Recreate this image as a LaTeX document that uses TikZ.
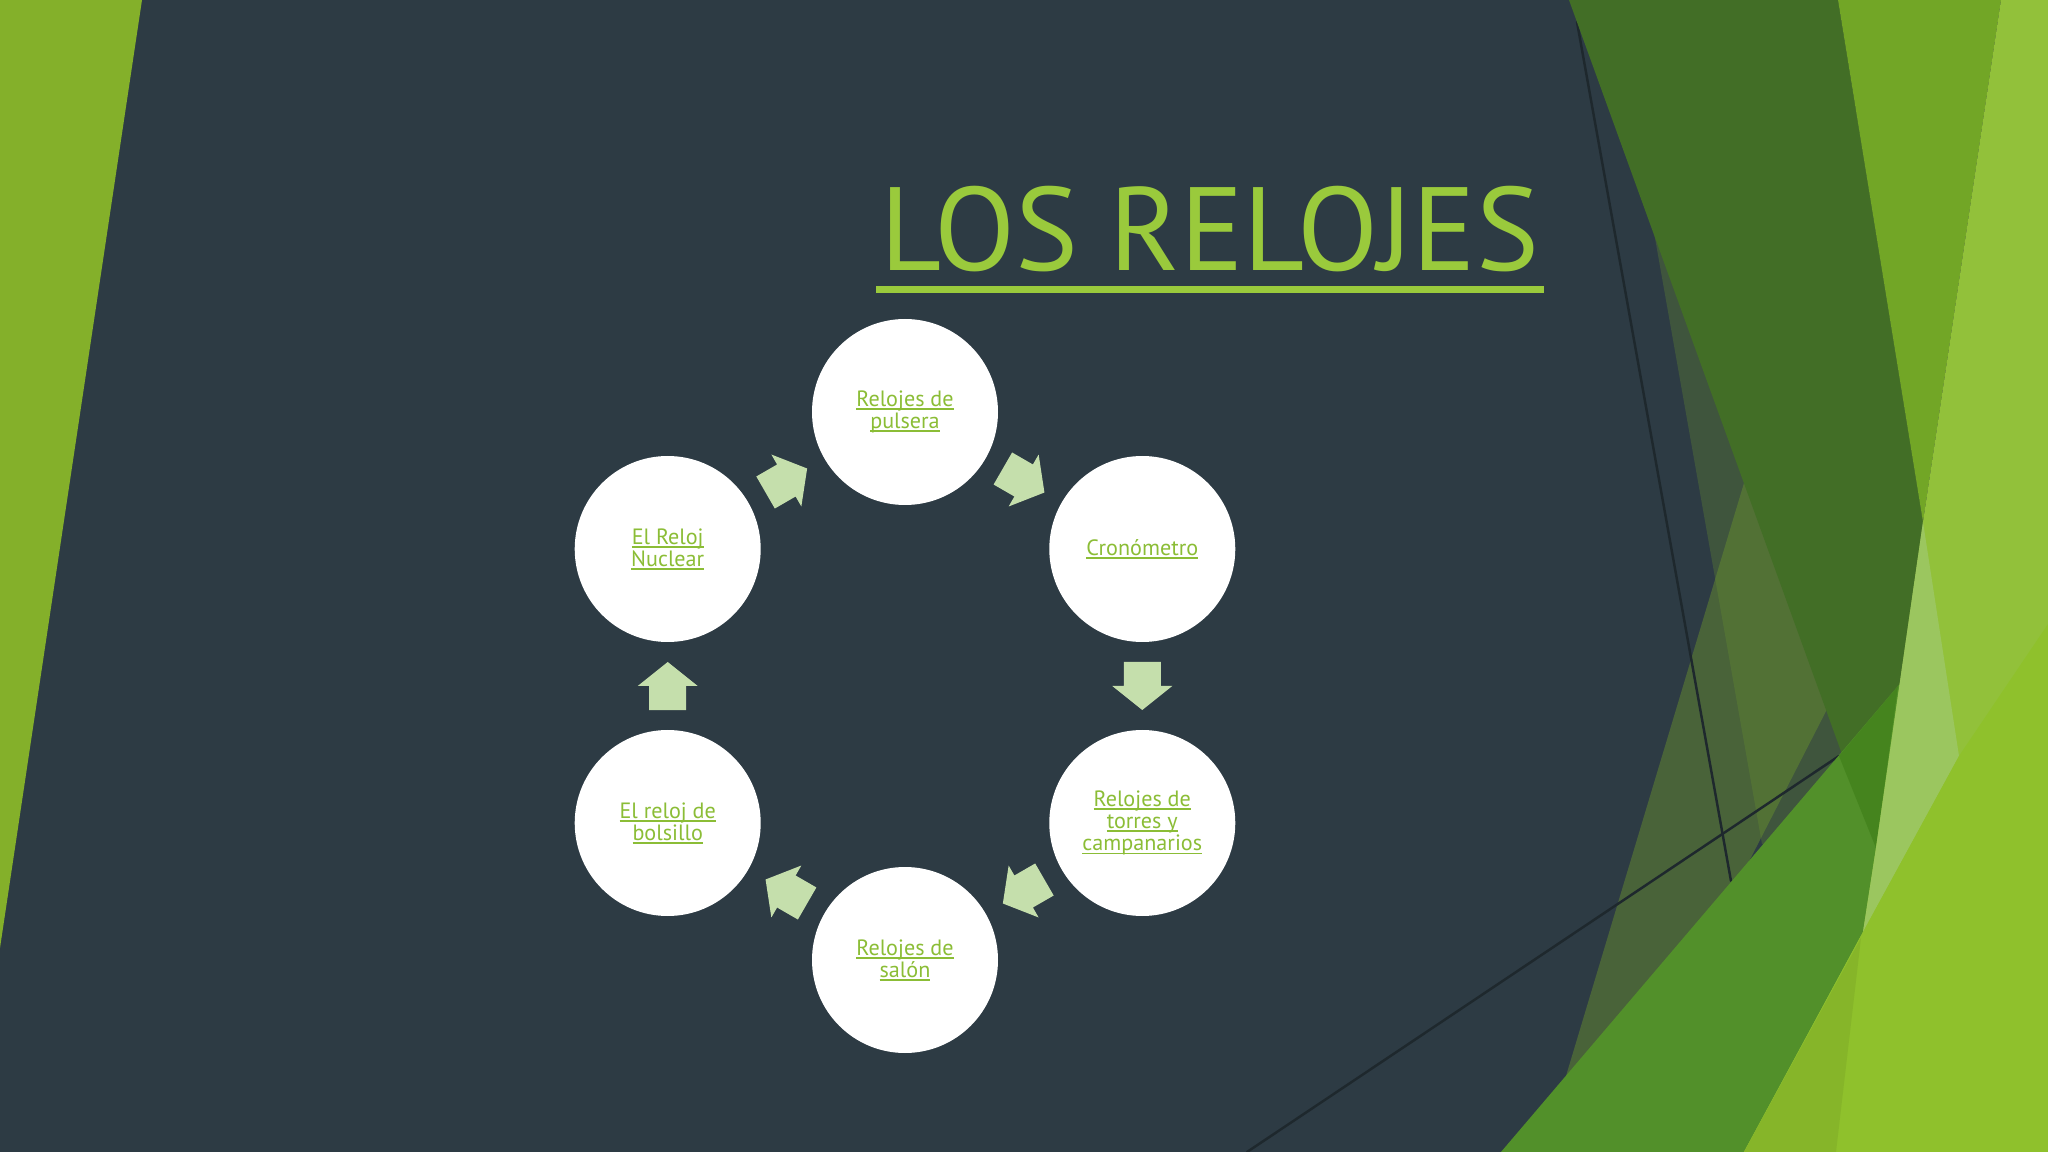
\documentclass[tikz,border=0pt]{standalone}
\usepackage{fontspec}
\setmainfont{PT Sans}
\usepackage{xcolor}
\usetikzlibrary{calc}
\definecolor{slate}{RGB}{45,59,68}
\definecolor{leafgreen}{RGB}{132,176,42}
\definecolor{titlegreen}{RGB}{154,202,60}
\definecolor{textgreen}{RGB}{139,189,54}
\definecolor{arrowgreen}{RGB}{197,223,172}
\definecolor{facetA}{RGB}{105,148,47}
\definecolor{facetB}{RGB}{117,160,42}
\definecolor{mossgreen}{RGB}{66,110,38}
\definecolor{grassgreen}{RGB}{114,166,38}
\definecolor{bandgreen}{RGB}{82,144,42}
\definecolor{deepgreen}{RGB}{69,132,30}
\definecolor{limegreen}{RGB}{146,193,58}
\definecolor{palegreen}{RGB}{155,198,95}
\definecolor{brightgreen}{RGB}{143,193,44}
\definecolor{stripgreen}{RGB}{134,181,41}
\definecolor{hairline}{RGB}{30,40,45}
\newcommand{\tlink}[1]{\leavevmode\setbox0=\hbox{#1}\rlap{\rule[-1.0pt]{\wd0}{0.5pt}}\box0}
\tikzset{
  every picture/.style={line join=round, line cap=round},
  clockbox/.style={circle, fill=white, minimum size=1.86cm, inner sep=0pt, align=center,
    text=textgreen, font=\fontsize{6.3}{6.3}\selectfont},
  blockarrow/.pic={\fill[arrowgreen] (-0.24,-0.185) -- (0,-0.185) -- (0,-0.30) -- (0.24,0)
    -- (0,0.30) -- (0,0.185) -- (-0.24,0.185) -- cycle;},
  hair/.style={hairline, line width=0.7pt},
}

\begin{document}
\begin{tikzpicture}
\fill[slate] (0,0) rectangle (20.48,-11.52);
\useasboundingbox (0,0) rectangle (20.48,-11.52);
\fill[leafgreen] (0,0) -- (1.42,0) -- (0,-9.48) -- cycle;
% facets on the right
\fill[facetB, opacity=0.4] (18.56,-1.10) -- (15.66,-10.76) -- (16.00,-11.52) -- (19.23,-5.22) -- cycle;
\fill[facetA, opacity=0.3] (16.13,0) -- (17.62,-8.44) -- (18.76,-8.48) -- (18.38,0) -- cycle;
\draw[hair] (15.77,-0.22) -- (17.31,-8.81);
\draw[hair] (12.47,-11.52) -- (18.39,-7.56);
\fill[mossgreen] (15.69,0) -- (18.38,0) -- (19.23,-5.22) -- (18.76,-8.48) -- cycle;
\fill[grassgreen] (18.38,0) -- (20.01,0) -- (19.23,-5.22) -- cycle;
\fill[bandgreen] (15.01,-11.52) -- (18.98,-6.86) -- (19.30,-6.50) -- (19.30,-9.00) -- (17.44,-11.52) -- cycle;
\fill[deepgreen] (18.39,-7.56) -- (18.98,-6.86) -- (18.76,-8.48) -- cycle;
\fill[limegreen] (20.01,0) -- (20.48,0) -- (20.48,-11.52) -- (17.44,-11.52) -- (18.63,-9.32) -- (18.76,-8.48) -- (19.23,-5.22) -- cycle;
\fill[palegreen] (19.23,-5.22) -- (19.59,-7.56) -- (18.63,-9.32) -- (18.76,-8.48) -- cycle;
\fill[brightgreen] (20.48,-6.24) -- (19.59,-7.56) -- (18.63,-9.32) -- (17.44,-11.52) -- (20.48,-11.52) -- cycle;
\fill[stripgreen] (17.44,-11.52) -- (18.61,-9.38) -- (18.36,-11.52) -- cycle;
% title
\node[anchor=base, inner sep=0pt, text=titlegreen, font=\fontsize{33.7}{40}\selectfont] (title) at (12.10,-2.71) {LOS RELOJES};
\draw[titlegreen, line width=0.07cm, line cap=butt] ([xshift=-0.04cm, yshift=-0.185cm]title.base west) -- ([xshift=0.04cm, yshift=-0.185cm]title.base east);
% cycle
\begin{scope}[shift={(9.05,-6.86)}]
\node[clockbox] (pulsera) at (90:2.74) {\tlink{Relojes de}\\\tlink{pulsera}};
\node[clockbox] (crono) at (30:2.74) {\tlink{Cronómetro}};
\node[clockbox] (torres) at (-30:2.74) {\tlink{Relojes de}\\\tlink{torres y}\\\tlink{campanarios}};
\node[clockbox] (salon) at (-90:2.74) {\tlink{Relojes de}\\\tlink{salón}};
\node[clockbox] (bolsillo) at (-150:2.74) {\tlink{El reloj de}\\\tlink{bolsillo}};
\node[clockbox] (nuclear) at (150:2.74) {\tlink{El Reloj}\\\tlink{Nuclear}};
\end{scope}
\pic[rotate=-30] at ($(pulsera)!0.5!(crono)$) {blockarrow};
\pic[rotate=-90] at ($(crono)!0.5!(torres)$) {blockarrow};
\pic[rotate=-150] at ($(torres)!0.5!(salon)$) {blockarrow};
\pic[rotate=150] at ($(salon)!0.5!(bolsillo)$) {blockarrow};
\pic[rotate=90] at ($(bolsillo)!0.5!(nuclear)$) {blockarrow};
\pic[rotate=30] at ($(nuclear)!0.5!(pulsera)$) {blockarrow};
\end{tikzpicture}
\end{document}
